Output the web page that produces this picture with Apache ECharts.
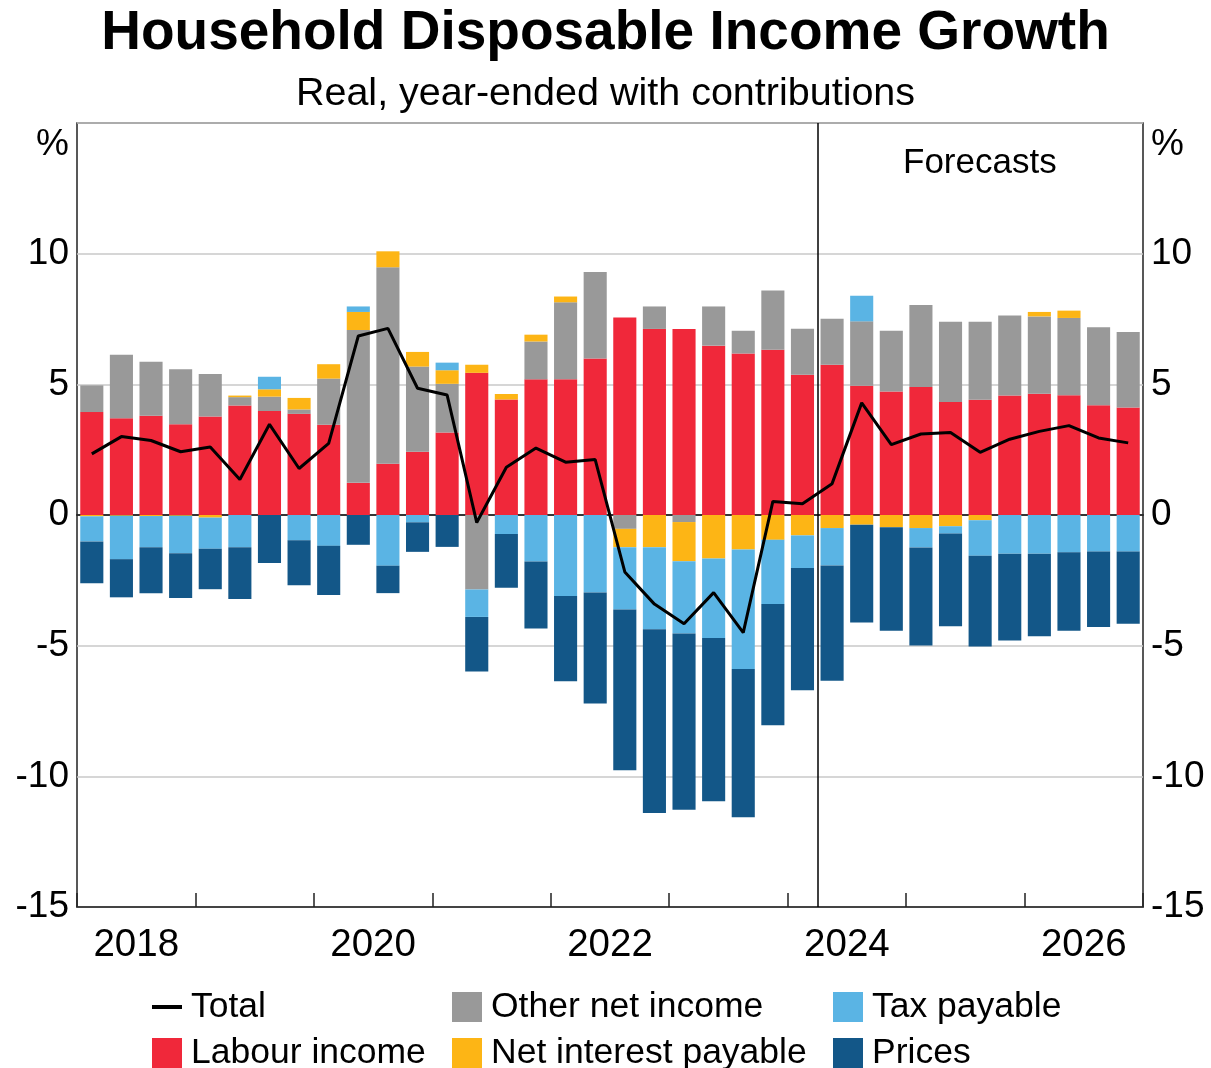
<!DOCTYPE html>
<html>
<head>
<meta charset="utf-8">
<script src="https://cdn.jsdelivr.net/npm/echarts@6/dist/echarts.min.js"></script>
<style>
  html, body { margin: 0; padding: 0; background: #fff; }
  #chart { width: 1211px; height: 1068px; }
</style>
</head>
<body>
<div id="chart"></div>
<script>
// quarters 2018 Q1 .. 2026 Q4
var quarters = [];
for (var y = 2018; y <= 2026; y++) {
  for (var q = 1; q <= 4; q++) quarters.push(y + '-Q' + q);
}
var firstForecast = '2024-Q2';

// contributions, ppt
var labour = [3.94, 3.70, 3.80, 3.47, 3.77, 4.19, 3.98, 3.87, 3.45, 1.23, 1.96, 2.42,
  3.16, 5.44, 4.42, 5.19, 5.19, 5.99, 7.56, 7.12, 7.12, 6.48, 6.18, 6.32,
  5.37, 5.75, 4.95, 4.73, 4.90, 4.32, 4.41, 4.57, 4.64, 4.58, 4.20, 4.11];
var otherNet = [1.02, 2.43, 2.06, 2.11, 1.63, 0.32, 0.55, 0.17, 1.77, 5.85, 7.52, 3.26,
  1.86, -2.85, 0, 1.45, 2.95, 3.31, -0.53, 0.86, -0.27, 1.50, 0.87, 2.27,
  1.76, 1.76, 2.46, 2.32, 3.14, 3.07, 2.98, 3.06, 2.96, 2.96, 2.98, 2.89];
var netInterest = [-0.05, -0.03, -0.04, -0.03, -0.10, 0.06, 0.28, 0.44, 0.55, 0.69, 0.61, 0.56,
  0.52, 0.31, 0.21, 0.26, 0.22, 0, -0.70, -1.23, -1.50, -1.66, -1.32, -0.95,
  -0.78, -0.50, -0.37, -0.47, -0.50, -0.43, -0.20, 0, 0.17, 0.28, 0, 0];
var taxPayable = [-0.96, -1.66, -1.19, -1.43, -1.19, -1.23, 0.48, -0.97, -1.18, 0.21, -1.94, -0.28,
  0.29, -1.05, -0.73, -1.78, -3.10, -2.97, -2.39, -3.14, -2.76, -3.05, -4.57, -2.46,
  -1.25, -1.43, 0.98, 0, -0.74, -0.28, -1.36, -1.48, -1.48, -1.43, -1.40, -1.40];
var prices = [-1.60, -1.46, -1.76, -1.72, -1.55, -1.98, -1.84, -1.72, -1.88, -1.14, -1.05, -1.13,
  -1.22, -2.09, -2.05, -2.56, -3.26, -4.24, -6.15, -7.03, -6.75, -6.24, -5.68, -4.64,
  -4.68, -4.41, -3.74, -3.96, -3.75, -3.55, -3.47, -3.32, -3.16, -3.00, -2.89, -2.76];
var total = [2.34, 3.00, 2.85, 2.42, 2.60, 1.36, 3.47, 1.78, 2.74, 6.85, 7.14, 4.85,
  4.59, -0.29, 1.83, 2.56, 2.02, 2.12, -2.18, -3.41, -4.16, -2.97, -4.50, 0.52,
  0.43, 1.20, 4.29, 2.69, 3.10, 3.16, 2.40, 2.90, 3.20, 3.42, 2.95, 2.76];

var FONT = '"Liberation Sans", Arial, sans-serif';
var chart = echarts.init(document.getElementById('chart'));

function barSeries(name, data, color) {
  return {
    name: name,
    type: 'bar',
    stack: 'c',
    data: data,
    barWidth: '78%',
    itemStyle: { color: color },
    xAxisIndex: 0,
    yAxisIndex: 0
  };
}

// one legend per column, two rows each
function legendCol(left, names) {
  return {
    orient: 'vertical', left: left, top: 989, height: 100, padding: 0, itemGap: 10,
    itemWidth: 30, itemHeight: 30,
    textStyle: { fontFamily: FONT, fontSize: 35.5, lineHeight: 30, color: '#000', padding: [0, 0, 0, 4] },
    data: names.map(function (n) {
      if (n === 'Total') return { name: n, itemStyle: { opacity: 0 }, lineStyle: { width: 4 } };
      return { name: n, icon: 'rect' };
    })
  };
}

var yLabel = {
  margin: 8, fontFamily: FONT, fontSize: 37, color: '#000',
  formatter: function (v) { return v === 15 ? '{p|%}' : String(v); },
  rich: { p: { fontFamily: FONT, fontSize: 37, color: '#000', padding: [44, 0, 0, 0] } }
};

chart.setOption({
  backgroundColor: '#fff',
  animation: false,
  textStyle: { fontFamily: FONT },
  title: [
    {
      text: 'Household Disposable Income Growth',
      left: 'center', top: 6, padding: 0,
      textStyle: { fontFamily: FONT, fontSize: 55, fontWeight: 'bold', color: '#000' }
    },
    {
      text: 'Real, year-ended with contributions',
      left: 'center', top: 74, padding: 0,
      textStyle: { fontFamily: FONT, fontSize: 39.5, fontWeight: 'normal', color: '#000' }
    },
    {
      text: 'Forecasts',
      left: 903, top: 146, padding: 0,
      textStyle: { fontFamily: FONT, fontSize: 35, fontWeight: 'normal', color: '#000' }
    }
  ],
  grid: {
    left: 77, right: 68, top: 123, bottom: 161,
    show: true, borderColor: '#222', borderWidth: 1.5
  },
  legend: [
    legendCol(150, ['Total', 'Labour income']),
    legendCol(452, ['Other net income', 'Net interest payable']),
    legendCol(833, ['Tax payable', 'Prices'])
  ],
  xAxis: [
    {
      // bar categories, axis line drawn at zero
      type: 'category',
      position: 'bottom',
      data: quarters,
      axisLine: { onZero: true, lineStyle: { color: '#000', width: 1.5 } },
      axisTick: { show: false },
      axisLabel: { show: false },
      splitLine: { show: false }
    },
    {
      // year ticks
      type: 'value', position: 'bottom', min: 0, max: quarters.length, interval: 4,
      axisLine: { onZero: false, show: true, lineStyle: { color: '#222', width: 1.5 } },
      axisTick: { show: true, inside: true, length: 14, lineStyle: { color: '#222', width: 1.5 } },
      axisLabel: { show: false },
      splitLine: { show: false }
    },
    {
      // year labels in the middle of each year
      type: 'value', position: 'bottom', min: 0, max: quarters.length, interval: 2,
      axisLine: { onZero: false, show: false },
      axisTick: { show: false },
      splitLine: { show: false },
      axisLabel: {
        show: true, margin: 19, fontFamily: FONT, fontSize: 38.5, color: '#000',
        formatter: function (v) {
          if (v % 8 !== 2) return '';
          return quarters[v].slice(0, 4);
        }
      }
    }
  ],
  yAxis: [
    {
      type: 'value', min: -15, max: 15, interval: 5, position: 'left',
      axisLine: { show: false },
      axisTick: { show: false },
      splitLine: { show: true, lineStyle: { color: '#c8c8c8', width: 1.5 } },
      axisLabel: yLabel
    },
    {
      type: 'value', min: -15, max: 15, interval: 5, position: 'right',
      axisLine: { show: false },
      axisTick: { show: false },
      splitLine: { show: false },
      axisLabel: yLabel
    }
  ],
  series: [
    barSeries('Labour income', labour, '#F0283A'),
    barSeries('Other net income', otherNet, '#999999'),
    barSeries('Net interest payable', netInterest, '#FDB515'),
    barSeries('Tax payable', taxPayable, '#5AB4E4'),
    barSeries('Prices', prices, '#135788'),
    {
      name: 'Total',
      type: 'line',
      data: total,
      symbol: 'none',
      itemStyle: { color: '#000' },
      lineStyle: { color: '#000', width: 3 },
      xAxisIndex: 0,
      yAxisIndex: 0,
      z: 5
    },
    {
      // forecast divider
      name: 'forecast',
      type: 'line',
      xAxisIndex: 1,
      yAxisIndex: 0,
      data: [],
      markLine: {
        silent: true,
        symbol: 'none',
        label: { show: false },
        lineStyle: { color: '#000', width: 1.5, type: 'solid' },
        data: [{ xAxis: quarters.indexOf(firstForecast) }]
      }
    }
  ]
});
</script>
</body>
</html>
